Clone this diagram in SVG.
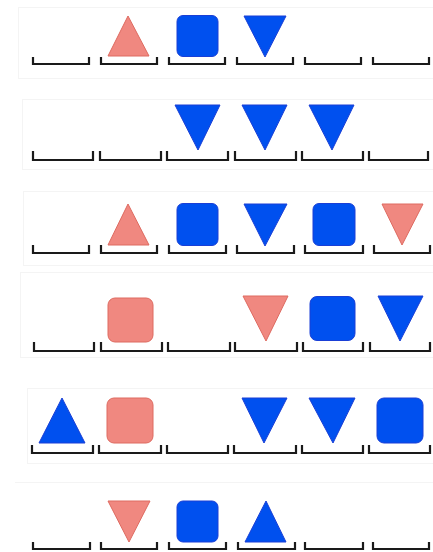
<svg xmlns="http://www.w3.org/2000/svg" width="433" height="552" viewBox="0 0 433 552">
<defs>
<style>
.panel{fill:#ffffff;stroke:#f4f4f4;stroke-width:1}
.br{fill:none;stroke:#1a1a1a;stroke-width:2.2;stroke-linejoin:miter}
.blue{fill:#0050ef;stroke:#1a3fd6;stroke-width:1}
.pink{fill:#f08880;stroke:#de6a60;stroke-width:1}
</style>
</defs>
<rect width="433" height="552" fill="#ffffff"/>

<g id="row1">
<rect class="panel" x="18.5" y="7.5" width="430" height="71"/>
<g id="row1-slots">
<path class="br" d="M33,57V64H89V57"/>
<path class="br" d="M101,57V64H157V57"/>
<path class="br" d="M169,57V64H225V57"/>
<path class="br" d="M237,57V64H293V57"/>
<path class="br" d="M305,57V64H361V57"/>
<path class="br" d="M373,57V64H429V57"/>
</g>
<polygon id="r1-tri-up" class="pink" points="128,16 149,56 108,56"/>
<rect id="r1-square" class="blue" x="177" y="15.5" width="41" height="41" rx="6"/>
<polygon id="r1-tri-down" class="blue" points="244,16 286,16 265,57"/>
</g>

<g id="row2">
<rect class="panel" x="22.5" y="99.5" width="430" height="70"/>
<g id="row2-slots">
<path class="br" d="M33,151V160H93V151"/>
<path class="br" d="M100,151V160H161V151"/>
<path class="br" d="M167,151V160H228V151"/>
<path class="br" d="M235,151V160H296V151"/>
<path class="br" d="M302,151V160H363V151"/>
<path class="br" d="M369,151V160H428V151"/>
</g>
<polygon id="r2-tri-down-1" class="blue" points="175,105 220,105 198,150"/>
<polygon id="r2-tri-down-2" class="blue" points="242,105 287,105 265,150"/>
<polygon id="r2-tri-down-3" class="blue" points="309,105 354,105 332,150"/>
</g>

<g id="row3">
<rect class="panel" x="23.5" y="191.5" width="430" height="74"/>
<g id="row3-slots">
<path class="br" d="M33,245V253H89V245"/>
<path class="br" d="M101,245V253H157V245"/>
<path class="br" d="M169,245V253H226V245"/>
<path class="br" d="M237,245V253H294V245"/>
<path class="br" d="M305,245V253H363V245"/>
<path class="br" d="M374,245V253H430V245"/>
</g>
<polygon id="r3-tri-up" class="pink" points="128,204 149,245 108,245"/>
<rect id="r3-square-1" class="blue" x="177" y="203.5" width="41" height="42" rx="6"/>
<polygon id="r3-tri-down" class="blue" points="244,204 287,204 265,246"/>
<rect id="r3-square-2" class="blue" x="313" y="203.5" width="42" height="42" rx="6"/>
<polygon id="r3-tri-down-pink" class="pink" points="382,204 423,204 402,245"/>
</g>

<g id="row4">
<rect class="panel" x="20.5" y="272.5" width="430" height="85"/>
<g id="row4-slots">
<path class="br" d="M34,342V351H94V342"/>
<path class="br" d="M101,342V351H162V342"/>
<path class="br" d="M168,342V351H230V342"/>
<path class="br" d="M235,342V351H297V342"/>
<path class="br" d="M303,342V351H363V342"/>
<path class="br" d="M370,342V351H430V342"/>
</g>
<rect id="r4-square-pink" class="pink" x="108" y="298" width="45" height="44" rx="7"/>
<polygon id="r4-tri-down-pink" class="pink" points="243,296 288,296 266,341"/>
<rect id="r4-square-blue" class="blue" x="310" y="296.5" width="45" height="44" rx="7"/>
<polygon id="r4-tri-down-blue" class="blue" points="378,296 423,296 400,341"/>
</g>

<g id="row5">
<rect class="panel" x="27.5" y="388.5" width="430" height="75"/>
<g id="row5-slots">
<path class="br" d="M32,445V453H93V445"/>
<path class="br" d="M99,445V453H161V445"/>
<path class="br" d="M167,445V453H228V445"/>
<path class="br" d="M234,445V453H296V445"/>
<path class="br" d="M302,445V453H363V445"/>
<path class="br" d="M369,445V453H430V445"/>
</g>
<polygon id="r5-tri-up" class="blue" points="62,398 85,443 39,443"/>
<rect id="r5-square-pink" class="pink" x="107" y="398" width="46" height="45" rx="7"/>
<polygon id="r5-tri-down-1" class="blue" points="242,398 287,398 264,443"/>
<polygon id="r5-tri-down-2" class="blue" points="309,398 355,398 333,443"/>
<rect id="r5-square-blue" class="blue" x="377" y="398" width="46" height="45" rx="7"/>
</g>

<g id="row6">
<line x1="15" y1="482.5" x2="433" y2="482.5" stroke="#f4f4f4" stroke-width="1"/>
<g id="row6-slots">
<path class="br" d="M33,542V549H90V542"/>
<path class="br" d="M101,542V549H157V542"/>
<path class="br" d="M169,542V549H226V542"/>
<path class="br" d="M238,542V549H295V542"/>
<path class="br" d="M305,542V549H363V542"/>
<path class="br" d="M373,542V549H429V542"/>
</g>
<polygon id="r6-tri-down-pink" class="pink" points="108,501 150,501 129,542"/>
<rect id="r6-square" class="blue" x="177" y="501" width="41" height="41" rx="6"/>
<polygon id="r6-tri-up" class="blue" points="266,501 286,542 245,542"/>
</g>
</svg>
